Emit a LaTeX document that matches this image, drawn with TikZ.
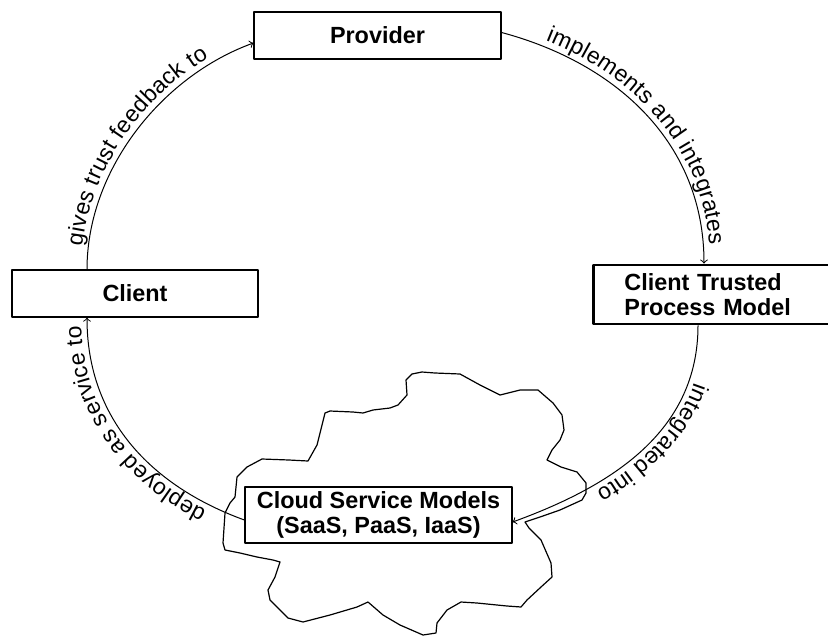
\documentclass[tikz,border=0pt]{standalone}
\usepackage{fontspec}
\setmainfont{Liberation Sans}
\usetikzlibrary{decorations.text}

\newcommand{\boxfont}{\fontsize{11.7}{12.5}\selectfont\bfseries}
\newcommand{\arcfont}{\fontsize{11.5}{13}\selectfont}

\tikzset{
  entity/.style={draw, line width=0.6pt, fill=white, font=\boxfont, align=center, inner sep=0pt},
  relation/.style={->, line width=0.5pt},
  arclabel/.style 2 args={postaction={decorate, decoration={text along path,
      raise=3pt, text align={left indent=#1}, text={|\arcfont|#2}}}}
}

\begin{document}
\begin{tikzpicture}[x=0.5pt, y=-0.5pt, line join=round]
    \useasboundingbox (0,0) rectangle (828,637);

    % cloud outline round the service models
    \draw[line width=0.6pt] (235,497) -- (237,477) -- (247,467) -- (262,459) -- (289,460)
      -- (308,461) -- (317,445) -- (322,425) -- (325,413) -- (330,411) -- (353,412)
      -- (363,413) -- (373,410) -- (390,408) -- (398,405) -- (407,395) -- (406,380)
      -- (412,374) -- (422,372) -- (435,373) -- (460,374) -- (480,385) -- (500,395)
      -- (520,390) -- (538,390) -- (553,403) -- (562,415) -- (564,430) -- (560,440)
      -- (552,450) -- (547,460) -- (561,467) -- (577,472) -- (586,483) -- (586,493)
      -- (582,500) -- (560,510) -- (540,517) -- (525,522) -- (529,528) -- (541,540)
      -- (551,563) -- (552,577) -- (541,587) -- (527,600) -- (521,607) -- (507,606)
      -- (477,603) -- (461,602) -- (447,610) -- (437,623) -- (436,633) -- (423,635)
      -- (400,625) -- (383,615) -- (368,602) -- (357,607) -- (330,615) -- (303,622)
      -- (288,618) -- (270,600) -- (268,590) -- (275,577) -- (280,562) -- (273,560)
      -- (257,557) -- (240,553) -- (225,550) -- (223,543) -- (225,513) -- (230,503) -- cycle;

    \node[entity, minimum width=123.5pt, minimum height=23.5pt] (provider) at (377.5,35.5) {Provider};
    \node[entity, minimum width=123pt, minimum height=23.5pt] (client) at (135,293.5) {Client};
    \node[entity, line width=1.4pt, anchor=west, align=left, text width=110pt, inner xsep=15.5pt,
      minimum height=29.5pt] (trusted) at (592,294.5) {Client Trusted\\Process Model};
    \node[entity, minimum width=133.5pt, minimum height=28pt] (cloud) at (378.5,515)
      {Cloud Service Models\\(SaaS, PaaS, IaaS)};

    \draw[relation, arclabel={11pt}{gives trust feedback to}]
      ([xshift=-24pt]client.north) to[out=90, in=200, looseness=0.9] ([yshift=-3.75pt]provider.west);
    \draw[relation, arclabel={22pt}{implements and integrates}]
      ([yshift=1.5pt]provider.east) to[out=-15, in=90] ([xshift=56pt]trusted.north west);
    \draw[relation, arclabel={28pt}{integrated into}]
      ([xshift=53pt]trusted.south west) to[out=-90, in=20] ([yshift=-3.5pt]cloud.east);
    \draw[relation, arclabel={19pt}{deployed as service to}]
      ([yshift=-2.5pt]cloud.west) to[out=160, in=-90] ([xshift=-24pt]client.south);
\end{tikzpicture}
\end{document}
